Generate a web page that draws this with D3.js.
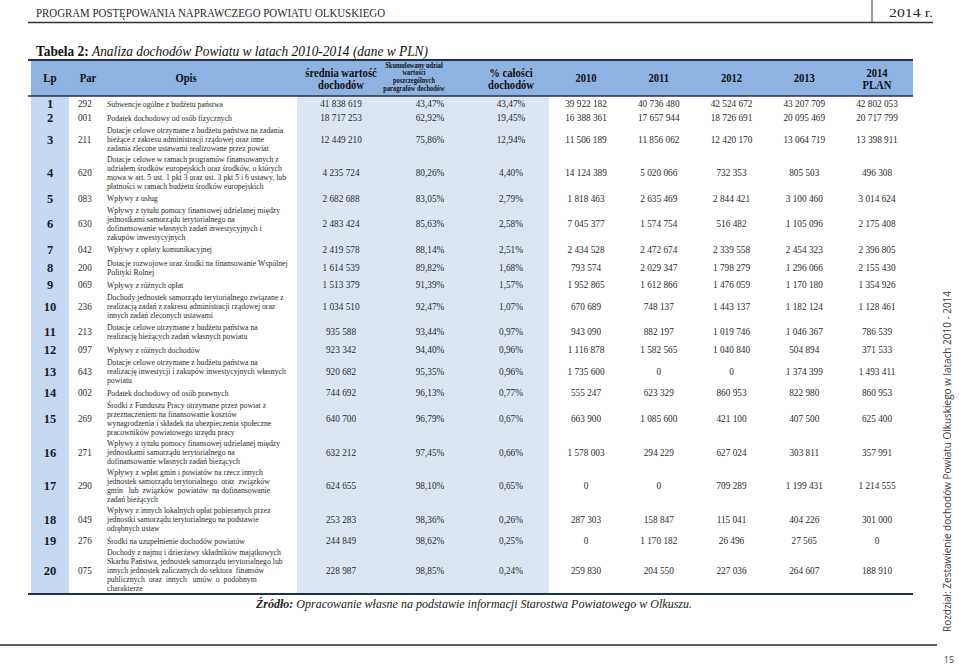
<!DOCTYPE html>
<meta charset="utf-8">
<script src="https://d3js.org/d3.v7.min.js"></script>
<style>
  body { margin: 0; background: #fff; }
  svg text { font-family: "Liberation Serif", serif; }
</style>
<div id="tabela"></div>
<script>
// dane tabeli
var lp = d3.range(1, 21);
var par = ["292","001","211","620","083","630","042","200","069","236","213","097","643","002","269","271","290","049","276","075"];
var opis = [
  ["Subwencje ogólne z budżetu państwa"],
  ["Podatek dochodowy od osób fizycznych"],
  ["Dotacje celowe otrzymane z budżetu państwa na zadania","bieżące z zakresu administracji rządowej oraz inne","zadania zlecone ustawami realizowane przez powiat"],
  ["Dotacje celowe w ramach programów finansowanych z","udziałem środków europejskich oraz środków, o których","mowa w art. 5 ust. 1 pkt 3 oraz ust. 3 pkt 5 i 6 ustawy, lub","płatności w ramach budżetu środków europejskich"],
  ["Wpływy z usług"],
  ["Wpływy z tytułu pomocy finansowej udzielanej między","jednostkami samorządu terytorialnego na","dofinansowanie własnych zadań inwestycyjnych i","zakupów inwestycyjnych"],
  ["Wpływy z opłaty komunikacyjnej"],
  ["Dotacje rozwojowe oraz środki na finansowanie Wspólnej","Polityki Rolnej"],
  ["Wpływy z różnych opłat"],
  ["Dochody jednostek samorządu terytorialnego związane z","realizacją zadań z zakresu administracji rządowej oraz","innych zadań zleconych ustawami"],
  ["Dotacje celowe otrzymane z budżetu państwa na","realizację bieżących zadań własnych powiatu"],
  ["Wpływy z różnych dochodów"],
  ["Dotacje celowe otrzymane z budżetu państwa na","realizację inwestycji i zakupów inwestycyjnych własnych","powiatu"],
  ["Podatek dochodowy od osób prawnych"],
  ["Środki z Funduszu Pracy otrzymane przez powiat z","przeznaczeniem na finansowanie kosztów","wynagrodzenia i składek na ubezpieczenia społeczne","pracowników powiatowego urzędu pracy"],
  ["Wpływy z tytułu pomocy finansowej udzielanej między","jednostkami samorządu terytorialnego na","dofinansowanie własnych zadań bieżących"],
  ["Wpływy z wpłat gmin i powiatów na rzecz innych","jednostek samorządu terytorialnego  oraz  związków","gmin   lub  związków  powiatów  na dofinansowanie","zadań bieżących"],
  ["Wpływy z innych lokalnych opłat pobieranych przez","jednostki samorządu terytorialnego na podstawie","odrębnych ustaw"],
  ["Środki na uzupełnienie dochodów powiatów"],
  ["Dochody z najmu i dzierżawy składników majątkowych","Skarbu Państwa, jednostek samorządu terytorialnego lub","innych jednostek zaliczanych do sektora  finansów","publicznych  oraz  innych   umów  o  podobnym","charakterze"]
];
var srednia = [41838619,18717253,12449210,4235724,2682688,2483424,2419578,1614539,1513379,1034510,935588,923342,920682,744692,640700,632212,624655,253283,244849,228987];
var skumulowany = [43.47,62.92,75.86,80.26,83.05,85.63,88.14,89.82,91.39,92.47,93.44,94.40,95.35,96.13,96.79,97.45,98.10,98.36,98.62,98.85];
var udzial = [43.47,19.45,12.94,4.40,2.79,2.58,2.51,1.68,1.57,1.07,0.97,0.96,0.96,0.77,0.67,0.66,0.65,0.26,0.25,0.24];
var lata = ["2010","2011","2012","2013","2014"];
var d2010 = [39922182,16388361,11506189,14124389,1818463,7045377,2434528,793574,1952865,670689,943090,1116878,1735600,555247,663900,1578003,0,287303,0,259830];
var d2011 = [40736480,17657944,11856062,5020066,2635469,1574754,2472674,2029347,1612866,748137,882197,1582565,0,623329,1085600,294229,0,158847,1170182,204550];
var d2012 = [42524672,18726691,12420170,732353,2844421,516482,2339558,1798279,1476059,1443137,1019746,1040840,0,860953,421100,627024,709289,115041,26496,227036];
var d2013 = [43207709,20095469,13064719,805503,3100460,1105096,2454323,1296066,1170180,1182124,1046367,504894,1374399,822980,407500,303811,1199431,404226,27565,264607];
var d2014 = [42802053,20717799,13398911,496308,3014624,2175408,2396805,2155430,1354926,1128461,786539,371533,1493411,860953,625400,357991,1214555,301000,0,188910];
var lataWartosci = [d2010, d2011, d2012, d2013, d2014];

var width = 959, height = 667;
var svg = d3.select("#tabela").append("svg")
    .attr("width", width)
    .attr("height", height);

var pl = d3.formatLocale({decimal: ",", thousands: "\u00a0", grouping: [3], currency: ["", " zł"]});
var fmtInt = pl.format(",d");
var fmtPct = function(v) { return pl.format(".2f")(v) + "%"; };

// kolumny
var left = 31, right = 913;
var xLp = 50, xPar = 78, xOpis = 107, xSr = 341, xSk = 430, xUd = 511;
var xYear = d3.scalePoint().domain(lata).range([586, 877]);

// wiersze - wysokość wg liczby linii opisu
var headTop = 60, bodyTop = 96, bodyBottom = 594;
var units = opis.map(function(o) { return o.length * 9 + 6.5; });
var cum = [0];
units.forEach(function(u, i) { cum.push(cum[i] + u); });
var y = d3.scaleLinear().domain([0, cum[cum.length - 1]]).range([bodyTop + 1, bodyBottom - 1]);

var rows = lp.map(function(n, i) {
  return {lp: n, par: par[i], opis: opis[i], y0: y(cum[i]), y1: y(cum[i + 1])};
});

// tekst zwężony (krój w oryginale jest węższy)
function narrow(sel, x, yy, sx) {
  return sel.append("text").attr("transform", "translate(" + x + "," + yy + ") scale(" + sx + ",1)");
}

// tła
svg.append("rect").attr("x", left).attr("y", headTop).attr("width", right - left).attr("height", bodyTop - headTop).attr("fill", "#8db3e2");
svg.append("rect").attr("x", left).attr("y", bodyTop).attr("width", 69 - left).attr("height", bodyBottom - bodyTop).attr("fill", "#c6d9f1");
svg.append("rect").attr("x", 297).attr("y", bodyTop).attr("width", 549 - 297).attr("height", bodyBottom - bodyTop).attr("fill", "#dce6f2");

// linie
[headTop, bodyTop, bodyBottom].forEach(function(yy, i) {
  svg.append("line").attr("x1", left - 3).attr("x2", right).attr("y1", yy).attr("y2", yy)
    .attr("stroke", "#1f3350").attr("stroke-width", i == 1 ? 1.5 : 2.2);
});

// nagłówek strony
svg.append("text").attr("x", 36).attr("y", 17).attr("font-size", 13.5).attr("fill", "#2b2b2b")
  .attr("textLength", 349).attr("lengthAdjust", "spacingAndGlyphs")
  .text("PROGRAM POSTĘPOWANIA NAPRAWCZEGO POWIATU OLKUSKIEGO");
svg.append("text").attr("x", 933).attr("y", 17).attr("font-size", 13.5).attr("fill", "#2b2b2b")
  .attr("text-anchor", "end").attr("textLength", 44).attr("lengthAdjust", "spacingAndGlyphs").text("2014 r.");
svg.append("line").attr("x1", 28).attr("x2", 933).attr("y1", 22.5).attr("y2", 22.5).attr("stroke", "#333").attr("stroke-width", 1.5);
svg.append("line").attr("x1", 872).attr("x2", 872).attr("y1", 0).attr("y2", 22).attr("stroke", "#333").attr("stroke-width", 1);

// tytuł
var tytul = svg.append("text").attr("x", 36).attr("y", 56).attr("font-size", 14).attr("fill", "#111")
  .attr("textLength", 392).attr("lengthAdjust", "spacingAndGlyphs");
tytul.append("tspan").attr("font-weight", "bold").text("Tabela 2: ");
tytul.append("tspan").attr("font-style", "italic").text("Analiza dochodów Powiatu w latach 2010-2014 (dane w PLN)");

// nagłówki kolumn
var hdr = svg.append("g").attr("font-weight", "bold").attr("fill", "#111").attr("text-anchor", "middle");
function hText(x, yy, size, lines, lh, sx) {
  var t = narrow(hdr, x, yy, sx || 0.85).attr("font-size", size);
  lines.forEach(function(l, i) { t.append("tspan").attr("x", 0).attr("y", i * lh).text(l); });
}
hText(xLp, 82, 13, ["Lp"], 0);
hText(88, 82, 12.5, ["Par"], 0);
hText(186, 82, 12.5, ["Opis"], 0);
hText(xSr, 76.5, 12.5, ["średnia wartość", "dochodów"], 12.5);
hText(414, 67.5, 8, ["Skumulowany udział", "wartości", "poszczególnych", "paragrafów dochodów"], 8, 0.8);
hText(xUd, 76.5, 12.5, ["% całości", "dochodów"], 12.5);
lata.slice(0, 4).forEach(function(r) { hText(xYear(r), 82, 12.5, [r], 0); });
hText(xYear("2014"), 76.5, 12.5, ["2014", "PLAN"], 12.5);

// wiersze
var row = svg.append("g").selectAll("g").data(rows).enter().append("g")
  .attr("transform", function(d) { return "translate(0," + ((d.y0 + d.y1) / 2) + ")"; });

row.append("text").attr("x", xLp).attr("y", 4.5).attr("text-anchor", "middle")
  .attr("font-size", 12.5).attr("font-weight", "bold").attr("fill", "#1a1a1a")
  .text(function(d) { return d.lp; });
row.each(function(d) {
  narrow(d3.select(this), xPar, 3.5, 0.9).attr("font-size", 10.2).attr("fill", "#2a2a2a").text(d.par);
});
row.each(function(d) {
  var t = narrow(d3.select(this), xOpis, 0, 0.9).attr("font-size", 8.6).attr("fill", "#2a2a2a")
    .attr("xml:space", "preserve");
  var n = d.opis.length;
  d.opis.forEach(function(l, i) {
    t.append("tspan").attr("x", 0).attr("y", (i - (n - 1) / 2) * 9 + 3).text(l);
  });
});

var num = row.append("g").attr("font-size", 10.3).attr("fill", "#2a2a2a").attr("text-anchor", "middle");
num.each(function(d, i) {
  var g = d3.select(this);
  narrow(g, xSr, 3.5, 0.9).text(fmtInt(srednia[i]));
  narrow(g, xSk, 3.5, 0.9).text(fmtPct(skumulowany[i]));
  narrow(g, xUd, 3.5, 0.9).text(fmtPct(udzial[i]));
  lata.forEach(function(r, k) {
    narrow(g, xYear(r), 3.5, 0.9).text(fmtInt(lataWartosci[k][i]));
  });
});

// źródło
var zr = svg.append("text").attr("x", 256).attr("y", 608).attr("font-size", 12.5).attr("fill", "#222")
  .attr("font-style", "italic").attr("textLength", 436).attr("lengthAdjust", "spacingAndGlyphs");
zr.append("tspan").attr("font-weight", "bold").text("Źródło: ");
zr.append("tspan").text("Opracowanie własne na podstawie informacji Starostwa Powiatowego w Olkuszu.");

// stopka
svg.append("line").attr("x1", 0).attr("x2", 937).attr("y1", 645).attr("y2", 645).attr("stroke", "#1f2a3a").attr("stroke-width", 1.5);
svg.append("text").attr("x", 949).attr("y", 663).attr("text-anchor", "middle").attr("font-size", 9)
  .style("font-family", "'Open Sans', sans-serif").attr("fill", "#444").text("15");
svg.append("text").attr("transform", "translate(951,632) rotate(-90)").attr("font-size", 11)
  .style("font-family", "'Open Sans', sans-serif").attr("fill", "#404040")
  .attr("textLength", 341).attr("lengthAdjust", "spacingAndGlyphs")
  .text("Rozdział: Zestawienie dochodów Powiatu Olkuskiego w latach 2010 - 2014");
</script>
